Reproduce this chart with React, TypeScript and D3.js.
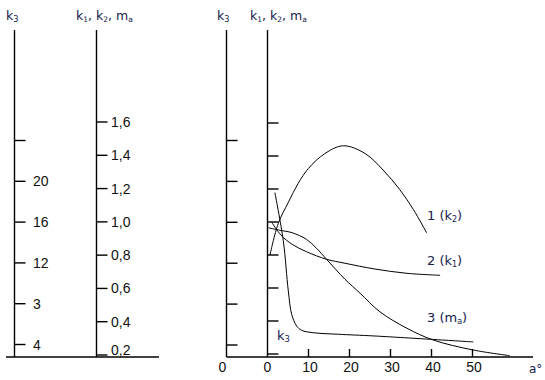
import React from "react";
import * as d3 from "d3";

// ---- data ----
const k3TickValues = [4, 8, 12, 16, 20, 24];
const k3TickLabels = ["4", "3", "12", "16", "20", ""];
const kTickValues = [0.2, 0.4, 0.6, 0.8, 1.0, 1.2, 1.4, 1.6];
const kTickLabels = ["0,2", "0,4", "0,6", "0,8", "1,0", "1,2", "1,4", "1,6"];
const xTickValues = [10, 20, 30, 40, 50];
const xTickLabels = ["10", "20", "30", "40", "50"];

// curve 1 (k2)
const k2A = [0.6, 2.6, 5.1, 7.5, 10, 14, 18.5, 23.8, 28.2, 32.3, 35.6, 38.8];
const k2V = [0.8, 0.99, 1.12, 1.235, 1.325, 1.415, 1.462, 1.415, 1.315, 1.195, 1.075, 0.935];
// curve 2 (k1)
const k1A = [1.0, 3.3, 6.0, 9.5, 14.4, 18.9, 26.2, 34, 42.1];
const k1V = [1.0, 0.92, 0.865, 0.82, 0.774, 0.75, 0.715, 0.689, 0.677];
// curve 3 (m)
const mA = [0.2, 3, 6, 9.5, 12, 14.4, 18.9, 22.6, 27.4, 34, 40.4, 50.2, 59.1];
const mV = [0.965, 0.95, 0.935, 0.895, 0.84, 0.774, 0.653, 0.568, 0.456, 0.356, 0.285, 0.224, 0.19];
// k3 curve (k3 units)
const k3A = [1.8, 3.85, 5.07, 5.9, 7.1, 8.3, 11.2, 17.3, 26.2, 50.2];
const k3V = [18.9, 14.2, 9.3, 7.0, 5.86, 5.44, 5.2, 5.05, 4.88, 4.3];

const W = 545;
const H = 380;
const BASE_Y = 357;
const TOP_Y = 30;

const numFont = "'Liberation Sans', Arial, sans-serif";
const txtFont = "'DejaVu Sans', Verdana, sans-serif";
const ink = "#000";
const labelInk = "#15214f";

function AxisTitle({ x, y }: { x: number; y: number }) {
  const s = 12.5;
  return (
    <text x={x} y={y} fontFamily={txtFont} fontSize={s} fill={labelInk}>
      <tspan>k</tspan>
      <tspan fontSize={7.5} dy={2}>1</tspan>
      <tspan dy={-2}>, k</tspan>
      <tspan fontSize={7.5} dy={2}>2</tspan>
      <tspan dy={-2}>, m</tspan>
      <tspan fontSize={7.5} dy={2}>a</tspan>
    </text>
  );
}

function K3Title({ x, y, size = 12.5 }: { x: number; y: number; size?: number }) {
  return (
    <text x={x} y={y} fontFamily={txtFont} fontSize={size} fill={labelInk}>
      <tspan>k</tspan>
      <tspan fontSize={size * 0.65} dy={2}>3</tspan>
    </text>
  );
}

export default function App() {
  // left panel scales
  const lK3 = d3.scaleLinear().domain([4, 24]).range([344.5, 140.5]);
  const lK = d3.scaleLinear().domain([0.2, 1.6]).range([355, 122]);
  // right panel scales
  const x = d3.scaleLinear().domain([0, 50]).range([267.5, 472.5]);
  const rK3 = d3.scaleLinear().domain([4, 24]).range([345, 140.5]);
  const rK = d3.scaleLinear().domain([0.2, 1.6]).range([354, 123]);

  const lineK = d3
    .line<[number, number]>()
    .x((d) => x(d[0]))
    .y((d) => rK(d[1]))
    .curve(d3.curveCatmullRom.alpha(0.5));
  const lineK3 = d3
    .line<[number, number]>()
    .x((d) => x(d[0]))
    .y((d) => rK3(d[1]))
    .curve(d3.curveCatmullRom.alpha(0.5));

  const zip = (a: number[], b: number[]) => a.map((v, i) => [v, b[i]] as [number, number]);

  const lx3 = 14.5, lx1 = 96.5, rx3 = 226.5, rx1 = 267.5;
  const sw = 1.4;

  return (
    <svg width={W} height={H} style={{ position: "absolute", left: 0, top: 0, background: "#fff" }}>
      <rect width={W} height={H} fill="#fff" />
      {/* ---- LEFT PANEL ---- */}
      <K3Title x={6} y={20} />
      <AxisTitle x={76} y={20} />
      <line x1={lx3} x2={lx3} y1={TOP_Y} y2={BASE_Y} stroke={ink} strokeWidth={sw} />
      <line x1={lx1} x2={lx1} y1={TOP_Y} y2={BASE_Y} stroke={ink} strokeWidth={sw} />
      <line x1={6} x2={159} y1={BASE_Y} y2={BASE_Y} stroke={ink} strokeWidth={sw} />
      {k3TickValues.map((v, i) => (
        <g key={"lk3" + i}>
          <line x1={lx3} x2={lx3 + 11} y1={lK3(v)} y2={lK3(v)} stroke={ink} strokeWidth={sw} />
          <text x={33} y={lK3(v)} dy="0.36em" fontFamily={numFont} fontSize={14} fill="#111">
            {k3TickLabels[i]}
          </text>
        </g>
      ))}
      {kTickValues.map((v, i) => (
        <g key={"lk" + i}>
          <line x1={lx1} x2={lx1 + 11} y1={lK(v)} y2={lK(v)} stroke={ink} strokeWidth={sw} />
          <text
            x={111}
            y={Math.min(lK(v) + 5, BASE_Y - 2)}
            fontFamily={numFont}
            fontSize={14}
            fill="#111"
          >
            {kTickLabels[i]}
          </text>
        </g>
      ))}

      {/* ---- RIGHT PANEL ---- */}
      <K3Title x={217} y={20} />
      <AxisTitle x={250} y={20} />
      <line x1={rx3} x2={rx3} y1={TOP_Y} y2={BASE_Y} stroke={ink} strokeWidth={sw} />
      <line x1={rx1} x2={rx1} y1={TOP_Y} y2={BASE_Y} stroke={ink} strokeWidth={sw} />
      <line x1={rx3} x2={533} y1={BASE_Y} y2={BASE_Y} stroke={ink} strokeWidth={sw} />
      {k3TickValues.map((v, i) => (
        <line key={"rk3" + i} x1={rx3} x2={rx3 + 11} y1={rK3(v)} y2={rK3(v)} stroke={ink} strokeWidth={sw} />
      ))}
      {kTickValues.map((v, i) => (
        <line key={"rk" + i} x1={rx1} x2={rx1 + 11} y1={rK(v)} y2={rK(v)} stroke={ink} strokeWidth={sw} />
      ))}
      {xTickValues.map((v, i) => (
        <g key={"xt" + i}>
          <line x1={x(v)} x2={x(v)} y1={BASE_Y} y2={BASE_Y - 8} stroke={ink} strokeWidth={sw} />
          <text x={x(v) + 1.5} y={372} textAnchor="middle" fontFamily={numFont} fontSize={14} fill="#111">
            {xTickLabels[i]}
          </text>
        </g>
      ))}
      <text x={222.5} y={372} textAnchor="middle" fontFamily={numFont} fontSize={14} fill="#111">0</text>
      <text x={x(0)} y={372} textAnchor="middle" fontFamily={numFont} fontSize={14} fill="#111">0</text>
      <text x={529} y={373} fontFamily={txtFont} fontSize={12} fill={labelInk}>a°</text>

      {/* curves */}
      <path d={lineK(zip(k2A, k2V)) || ""} fill="none" stroke={ink} strokeWidth={1} />
      <path d={lineK(zip(k1A, k1V)) || ""} fill="none" stroke={ink} strokeWidth={1} />
      <path d={lineK(zip(mA, mV)) || ""} fill="none" stroke={ink} strokeWidth={1} />
      <path d={lineK3(zip(k3A, k3V)) || ""} fill="none" stroke={ink} strokeWidth={1} />

      {/* curve labels */}
      <text x={427} y={220} fontFamily={txtFont} fontSize={13} fill={labelInk}>
        <tspan>1 (k</tspan>
        <tspan fontSize={8} dy={2}>2</tspan>
        <tspan dy={-2}>)</tspan>
      </text>
      <text x={427} y={265} fontFamily={txtFont} fontSize={13} fill={labelInk}>
        <tspan>2 (k</tspan>
        <tspan fontSize={8} dy={2}>1</tspan>
        <tspan dy={-2}>)</tspan>
      </text>
      <text x={427} y={322} fontFamily={txtFont} fontSize={13} fill={labelInk}>
        <tspan>3 (m</tspan>
        <tspan fontSize={8} dy={2}>a</tspan>
        <tspan dy={-2}>)</tspan>
      </text>
      <K3Title x={277} y={340} size={13} />
    </svg>
  );
}
